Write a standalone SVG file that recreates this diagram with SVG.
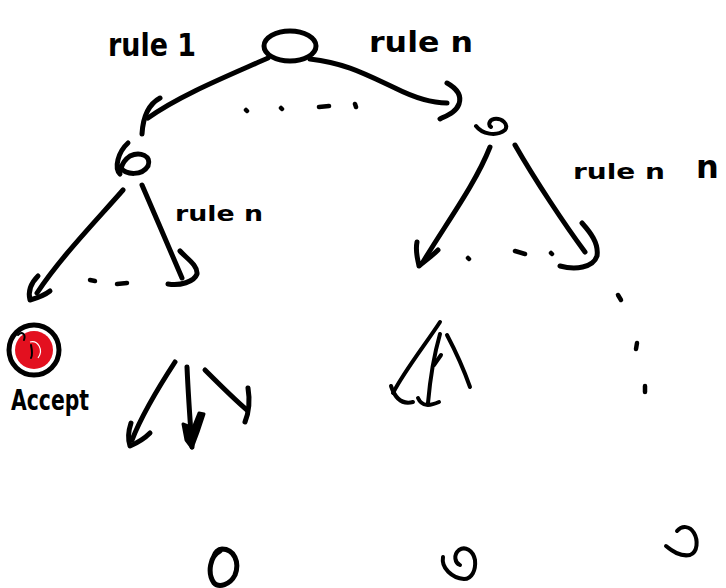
<svg xmlns="http://www.w3.org/2000/svg" width="726" height="588" viewBox="0 0 726 588">
<style>
.s{fill:none;stroke:#000;stroke-width:5;stroke-linecap:round;stroke-linejoin:round}
.t{stroke-width:4}
.d{fill:none;stroke:#000;stroke-width:4.5;stroke-linecap:round}
.lbl{font-family:"DejaVu Sans","Liberation Sans",sans-serif;fill:#000;font-weight:bold}
</style>
<rect width="726" height="588" fill="#fff"/>
<g id="root">
<ellipse class="s" cx="290" cy="46" rx="26" ry="15"/>
</g>
<g id="node-left">
<path class="s" d="M128,143 C118,152 114,168 120,174 M121,168 C126,175 142,176 148,166 C152,156 140,151 130,156 C124,160 122,165 121,168"/>
</g>
<g id="node-right">
<path class="s t" d="M476,126 C482,134 496,137 505,130 C509,124 502,118 494,119 C489,120 488,125 491,127"/>
</g>
<g id="accept">
<circle cx="34" cy="350" r="19" fill="#e3101f"/>
<circle class="s" cx="34" cy="350" r="25" stroke-width="5.5"/>
<path d="M18,335 C22,331 26,334 24,340 M31,345 C32,350 33,355 31,358" fill="none" stroke="#000" stroke-width="2" stroke-linecap="round"/>
<path d="M30,342 C38,340 44,350 38,358" fill="none" stroke="#fff" stroke-width="1.2"/>
<text class="lbl" x="11" y="410" font-size="28" textLength="78" lengthAdjust="spacingAndGlyphs">Accept</text>
</g>
<g id="leaf-1">
<path class="s" d="M220,551 C210,556 207,573 214,583 C219,588 230,585 235,575 C240,562 234,549 222,549 C218,549 215,553 214,556"/>
</g>
<g id="leaf-2">
<path class="s t" d="M443,557 C441,568 452,578 464,579 C472,579 476,570 475,560 C473,550 465,546 459,550 C453,555 455,563 460,565"/>
</g>
<g id="leaf-3">
<path class="s t" d="M666,546 C672,551 680,557 690,555 C698,552 698,540 694,533 C690,526 682,525 677,531"/>
</g>
<g id="connectors">
<path class="s" d="M268,58 C230,75 180,95 148,118"/>
<path class="s" d="M160,98 C149,104 143,116 142,134"/>
<path class="s" d="M310,59 C345,63 365,74 395,88 C415,98 432,103 447,103"/>
<path class="s" d="M447,83 C456,88 462,95 459,104 C456,112 448,115 440,119"/>
<path class="d" d="M246,110 L247,111 M281,108 L282,109 M319,107 L329,106 M355,104 L356,107"/>
<path class="s" d="M123,190 C95,222 60,258 37,293"/>
<path class="s" d="M38,276 C31,283 28,292 30,300 C37,298 45,295 50,291"/>
<path class="s" d="M142,185 C155,215 170,250 182,278"/>
<path class="s" d="M180,251 C186,258 198,265 197,274 C194,282 180,286 168,284"/>
<path class="d" d="M90,280 L95,281 M117,284 L127,283"/>
<path class="s" d="M490,147 C475,185 445,225 423,262"/>
<path class="s" d="M417,242 C415,252 418,260 419,266 C425,261 432,256 438,250"/>
<path class="s" d="M515,145 C535,180 565,225 585,252"/>
<path class="s" d="M582,223 C590,232 599,243 597,256 C593,268 575,270 560,266"/>
<path class="d" d="M468,258 L469,259 M515,251 L525,254 M551,253 L552,254"/>
<path class="s" d="M175,362 C160,385 143,412 132,440"/>
<path class="s" d="M131,423 C128,432 128,440 130,446 C137,443 145,438 150,433"/>
<path class="s" d="M187,367 C188,390 190,420 192,447"/>
<path d="M183,424 L186,440 L192,448 L198,432 L204,414 L199,413 L193,428 Z" fill="#000" stroke="#000" stroke-width="3" stroke-linejoin="round"/>
<path class="s" d="M205,370 C220,385 235,400 247,410"/>
<path class="s" d="M248,388 C250,400 249,412 245,422"/>
<path class="s t" d="M440,322 C425,345 405,370 393,393"/>
<path class="s t" d="M391,386 C395,398 402,405 413,402 M418,398 C422,407 430,406 439,402"/>
<path class="s t" d="M440,334 C434,355 430,380 428,403"/>
<path class="s t" d="M434,365 L441,355"/>
<path class="s t" d="M447,335 C456,352 464,370 470,387"/>
<path class="d" d="M618,295 L621,300 M637,343 L636,349 M645,386 L645,392"/>
</g>
<g id="labels">
<text class="lbl" x="108" y="56" font-size="32" textLength="88" lengthAdjust="spacingAndGlyphs">rule 1</text>
<text class="lbl" x="369" y="52" font-size="29" textLength="104" lengthAdjust="spacingAndGlyphs">rule n</text>
<text class="lbl" x="175" y="221" font-size="21" textLength="88" lengthAdjust="spacingAndGlyphs">rule n</text>
<text class="lbl" x="573" y="179" font-size="21" textLength="92" lengthAdjust="spacingAndGlyphs">rule n</text>
<text class="lbl" x="696" y="178" font-size="32">n</text>
</g>
</svg>
